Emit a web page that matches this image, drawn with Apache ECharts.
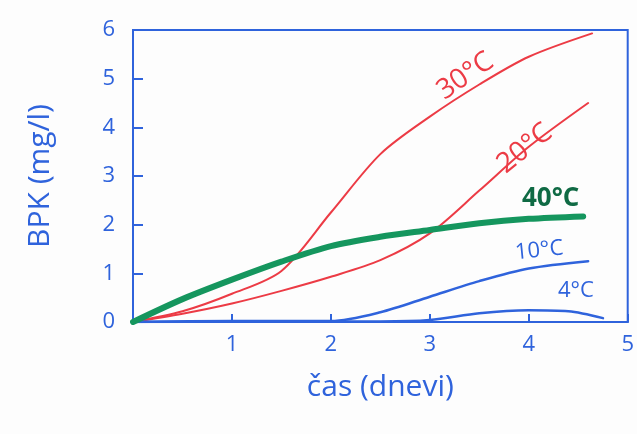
<!DOCTYPE html>
<html>
<head>
<meta charset="utf-8">
<script src="https://cdn.jsdelivr.net/npm/echarts@6/dist/echarts.min.js"></script>
<style>
  html, body { margin: 0; padding: 0; background: #fdfdfd; }
  #chart { width: 637px; height: 434px; }
</style>
</head>
<body>
<div id="chart"></div>
<script>
// BPK (mg/l) skozi čas pri različnih temperaturah
const xTicks = [0, 1, 2, 3, 4, 5];
const yTicks = [0, 1, 2, 3, 4, 5, 6];

const t30 = [[0, 0], [0.5, 0.22], [1, 0.58], [1.5, 1.05], [2, 2.25], [2.5, 3.45], [3, 4.22], [3.5, 4.88], [4, 5.45], [4.64, 5.93]];
const t20 = [[0, 0], [0.5, 0.17], [1, 0.38], [1.5, 0.64], [2, 0.93], [2.5, 1.27], [3, 1.82], [3.5, 2.7], [4, 3.6], [4.6, 4.5]];
const t40 = [[0, 0], [0.5, 0.47], [1, 0.87], [1.5, 1.24], [2, 1.56], [2.5, 1.75], [3, 1.89], [3.5, 2.03], [4, 2.12], [4.55, 2.17]];
const t10 = [[0, 0], [1, 0.02], [1.5, 0.02], [2, 0.02], [2.5, 0.2], [3, 0.52], [3.5, 0.84], [4, 1.1], [4.6, 1.25]];
const t4 = [[0, 0], [1, 0.01], [2, 0.01], [2.5, 0.01], [3, 0.04], [3.5, 0.18], [4, 0.24], [4.4, 0.22], [4.75, 0.08]];

const BLUE = '#2f63dc';
const RED = '#ec3b45';
const GREEN = '#15965e';
const FONT = 'Open Sans';

const chart = echarts.init(document.getElementById('chart'));

function line(name, data, color, width) {
  return {
    name, type: 'line', data, smooth: 0.3, showSymbol: false,
    lineStyle: { color, width, cap: 'round' }, z: width > 3 ? 3 : 2
  };
}

chart.setOption({
  backgroundColor: '#fdfdfd',
  animation: false,
  grid: {
    left: 133, right: 9, top: 30, bottom: 112,
    show: true, borderColor: BLUE, borderWidth: 2, backgroundColor: 'transparent'
  },
  xAxis: {
    type: 'value', min: xTicks[0], max: xTicks[xTicks.length - 1], interval: 1,
    name: 'čas (dnevi)', nameLocation: 'middle', nameGap: 50,
    nameTextStyle: { color: BLUE, fontSize: 30, fontFamily: FONT },
    axisLine: { lineStyle: { color: BLUE, width: 2 } },
    axisTick: { inside: true, length: 8, lineStyle: { color: BLUE, width: 2 } },
    axisLabel: {
      color: BLUE, fontSize: 22, fontFamily: FONT, margin: 12,
      formatter: v => (v === 0 ? '' : String(v))
    },
    splitLine: { show: false }
  },
  yAxis: {
    type: 'value', min: yTicks[0], max: yTicks[yTicks.length - 1], interval: 1,
    name: 'BPK (mg/l)', nameLocation: 'middle', nameGap: 78, nameRotate: 90,
    nameTextStyle: { color: BLUE, fontSize: 30, fontFamily: FONT },
    axisLine: { lineStyle: { color: BLUE, width: 2 } },
    axisTick: { inside: true, length: 10, lineStyle: { color: BLUE, width: 2 } },
    axisLabel: { color: BLUE, fontSize: 22, fontFamily: FONT, margin: 18 },
    splitLine: { show: false }
  },
  series: [
    line('30°C', t30, RED, 2),
    line('20°C', t20, RED, 2),
    line('10°C', t10, BLUE, 2.5),
    line('4°C', t4, BLUE, 2.5),
    line('40°C', t40, GREEN, 6)
  ],
  graphic: [
    { type: 'text', x: 432, y: 82, rotation: 0.6,
      style: { text: '30°C', fill: RED, fontSize: 28, fontFamily: FONT } },
    { type: 'text', x: 492, y: 157, rotation: 0.68,
      style: { text: '20°C', fill: RED, fontSize: 28, fontFamily: FONT } },
    { type: 'text', x: 522, y: 186,
      style: { text: '40°C', fill: '#0f6a44', fontSize: 26, fontWeight: 'bold', fontFamily: FONT } },
    { type: 'text', x: 514, y: 242, rotation: 0.1,
      style: { text: '10°C', fill: BLUE, fontSize: 22, fontFamily: FONT } },
    { type: 'text', x: 558, y: 280,
      style: { text: '4°C', fill: BLUE, fontSize: 22, fontFamily: FONT } }
  ]
});
</script>
</body>
</html>
